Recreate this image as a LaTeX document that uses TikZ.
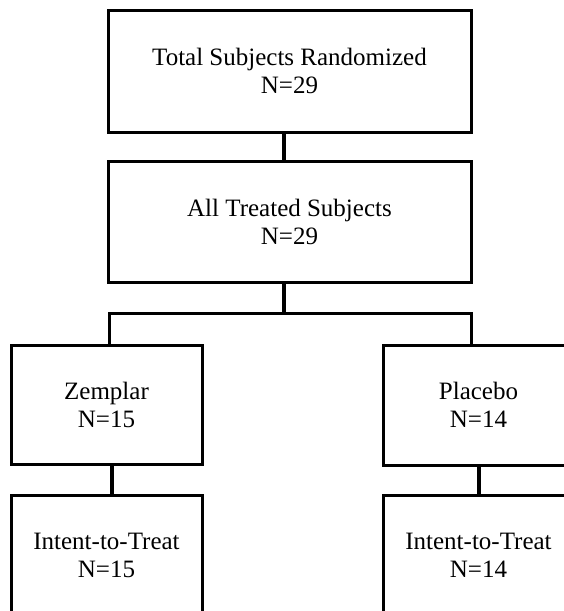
\documentclass[tikz,border=0pt]{standalone}
\usepackage{fontspec}
\setmainfont{Liberation Serif}
\begin{document}
\begin{tikzpicture}[x=1pt,y=-1pt,
  box/.style={draw=black, line width=3pt, fill=white, inner sep=0pt, align=center,
    font=\fontsize{25}{28}\selectfont},
  bigbox/.style={box, minimum width=363pt},
  smallbox/.style={box, minimum width=191pt},
  conn/.style={draw=black, line width=3.5pt}]
\fill[white] (0,0) rectangle (564,611);
\useasboundingbox (0,0) rectangle (564,611);
\clip (0,0) rectangle (564,611);
\node[bigbox, minimum height=122pt] (top) at (289.5,71) {Total Subjects Randomized\\N=29};
\node[bigbox, minimum height=121pt] (mid) at (289.5,221.5) {All Treated Subjects\\N=29};
\node[smallbox, minimum height=119pt] (zem) at (106.5,404.5) {Zemplar\\N=15};
\node[smallbox, minimum height=120pt] (pla) at (478.5,405) {Placebo\\N=14};
\node[smallbox, minimum height=120pt] (itta) at (106.5,555) {Intent-to-Treat\\N=15};
\node[smallbox, minimum height=120pt] (ittb) at (478.5,555) {Intent-to-Treat\\N=14};
\coordinate (br) at (284,313);
\draw[conn] ([xshift=-5.5pt]top.south) -- ([xshift=-5.5pt]mid.north);
\draw[conn] ([xshift=-5.5pt]mid.south) -- (br);
\draw[conn, line width=3pt] ([xshift=2.5pt]zem.north) |- (br) -| ([xshift=-7.5pt]pla.north);
\draw[conn] ([xshift=5.5pt]zem.south) -- ([xshift=5.5pt]itta.north);
\draw[conn] ([xshift=0.5pt]pla.south) -- ([xshift=0.5pt]ittb.north);
\end{tikzpicture}
\end{document}
